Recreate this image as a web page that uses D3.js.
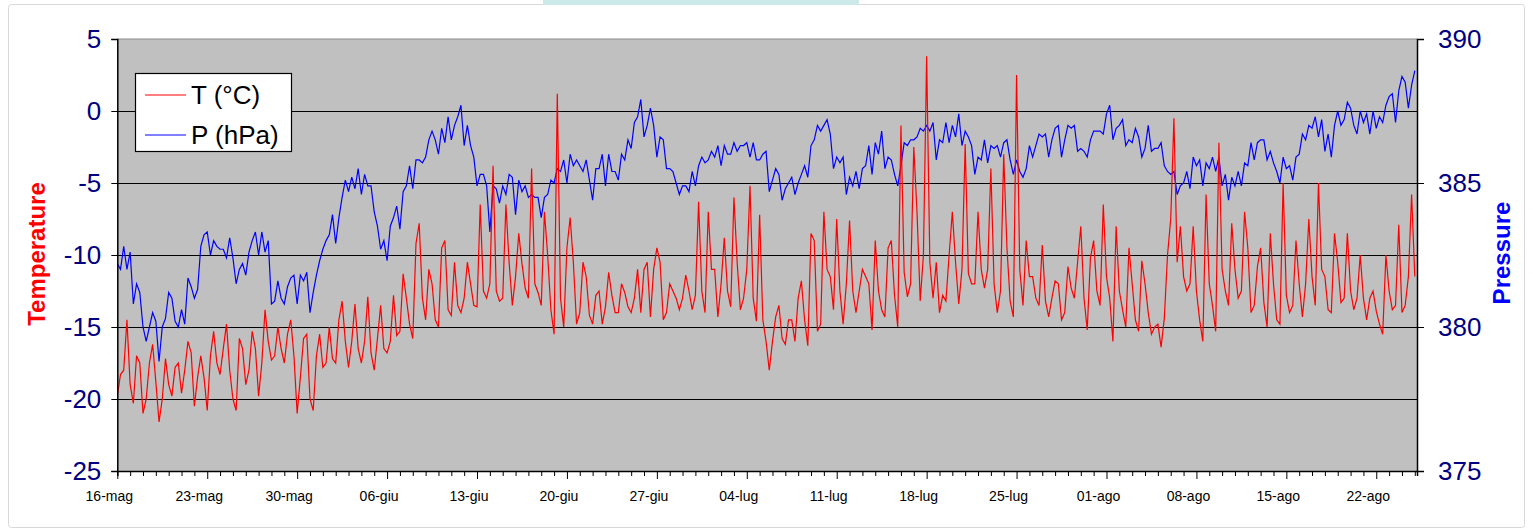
<!DOCTYPE html>
<html><head><meta charset="utf-8">
<script src="https://cdn.jsdelivr.net/npm/d3@7"></script>
<style>body{margin:0;background:#fff;}svg{display:block;font-family:"Liberation Sans",Arial,sans-serif;}</style>
</head><body>
<svg id="chart" width="1533" height="531"></svg>
<script>
// Time axis: days since 16-mag, samples every 6 hours
const sampleStepDays = 0.25;
const xEndDay = 101.17;
const xTickLabels = ["16-mag","23-mag","30-mag","06-giu","13-giu","20-giu","27-giu","04-lug","11-lug","18-lug","25-lug","01-ago","08-ago","15-ago","22-ago"];
const tempTicks = [-25,-20,-15,-10,-5,0,5];
const pressTicks = [375,380,385,390];
const legendLabels = ["T (°C)","P (hPa)"];

// Temperature (°C), one value every 6 h
const temperature = [
-19.8,-18.3,-18.0,-14.5, -19.0,-20.3,-17.0,-17.5, -21.0,-20.0,-17.5,-16.2, -18.8,-21.6,-20.0,-17.2,
-19.0,-19.8,-17.8,-17.5, -19.6,-18.0,-16.0,-16.8, -20.5,-18.5,-17.0,-18.5, -20.8,-17.0,-15.3,-17.5,
-18.3,-16.5,-14.8,-18.0, -20.0,-20.8,-15.8,-16.5, -19.0,-18.0,-15.3,-16.5, -19.8,-17.5,-13.8,-16.0,
-17.3,-17.0,-15.0,-16.5, -17.5,-15.5,-14.5,-17.0, -21.0,-18.5,-15.8,-15.5, -20.0,-20.8,-17.0,-15.5,
-17.8,-17.5,-15.0,-17.2, -17.5,-14.5,-13.2,-16.0, -17.8,-16.0,-13.4,-16.5, -17.5,-16.0,-12.9,-16.8,
-18.0,-15.8,-13.5,-16.5, -16.8,-16.0,-12.8,-15.6, -15.3,-11.3,-13.0,-14.8, -15.8,-9.2,-7.8,-13.0,
-14.5,-11.0,-12.0,-14.5, -15.0,-9.5,-9.0,-13.8, -14.2,-10.5,-13.5,-14.0, -13.0,-10.5,-12.0,-13.5,
-13.6,-6.5,-12.5,-13.0, -12.0,-3.8,-12.5,-13.2, -13.0,-6.5,-10.5,-13.5, -11.5,-8.5,-10.6,-12.3,
-13.0,-4.0,-12.0,-12.6, -13.5,-7.0,-10.0,-13.8, -15.5,1.2,-13.0,-15.0, -9.5,-7.4,-10.5,-14.8,
-14.0,-10.5,-11.5,-14.2, -14.8,-12.8,-12.5,-14.8, -13.6,-11.2,-12.8,-14.0, -14.0,-12.0,-12.6,-13.6,
-14.0,-13.0,-11.0,-14.0, -11.0,-10.5,-14.3,-11.0, -9.5,-10.5,-14.5,-14.0, -12.0,-12.5,-13.0,-13.8,
-13.0,-11.4,-12.5,-13.8, -12.8,-6.3,-12.5,-14.0, -7.0,-11.0,-11.0,-14.3, -12.0,-8.8,-12.5,-13.6,
-6.0,-10.5,-13.8,-13.0, -11.0,-5.2,-13.0,-14.6, -7.2,-14.5,-16.0,-18.0, -16.0,-14.3,-13.5,-15.8,
-16.2,-14.5,-14.5,-16.0, -13.0,-11.8,-14.5,-16.3, -8.5,-9.0,-15.3,-14.8, -7.0,-11.0,-11.5,-13.8,
-7.5,-12.5,-14.8,-12.0, -7.6,-12.5,-14.0,-12.5, -11.0,-11.5,-12.0,-15.2, -9.0,-12.5,-13.8,-14.3,
-9.5,-9.0,-12.8,-15.0, -1.0,-11.2,-12.9,-12.0, -2.5,-7.0,-13.2,-10.0, 3.8,-10.5,-13.0,-10.5,
-14.0,-12.8,-13.2,-10.0, -7.0,-10.5,-13.4,-11.0, -2.3,-11.3,-12.0,-12.0, -7.0,-11.0,-12.3,-11.0,
-4.0,-12.0,-14.0,-12.5, -3.0,-9.5,-13.2,-14.3, 2.5,-11.0,-13.5,-9.0, -11.5,-11.5,-13.0,-13.5,
-9.3,-13.2,-14.3,-13.0, -11.8,-12.0,-14.5,-14.0, -10.8,-12.3,-13.0,-10.5, -8.0,-13.0,-15.2,-10.2,
-9.0,-12.5,-13.5,-6.5, -11.5,-13.0,-16.0,-8.0, -12.5,-13.8,-15.0,-9.5, -12.0,-14.5,-15.3,-10.4,
-12.0,-14.0,-15.5,-15.0, -14.8,-16.4,-14.4,-10.0, -7.5,-0.5,-10.5,-8.0, -11.5,-12.5,-12.0,-8.0,
-12.5,-14.5,-16.0,-5.8, -12.0,-13.5,-15.3,-2.2, -11.0,-12.5,-13.5,-7.8, -11.0,-13.0,-12.5,-7.0,
-9.5,-14.0,-13.5,-10.8, -9.5,-13.3,-15.0,-8.5, -12.0,-14.5,-14.8,-5.0, -12.8,-14.0,-13.5,-9.0,
-12.0,-14.3,-12.0,-7.5, -11.5,-13.5,-5.0,-11.0, -11.5,-13.8,-14.0,-8.5, -10.5,-13.3,-13.0,-8.5,
-12.5,-13.8,-13.0,-10.0, -13.0,-14.5,-13.0,-12.5, -13.9,-14.8,-15.5,-10.0, -12.5,-13.8,-13.5,-7.9,
-14.0,-13.5,-11.5,-5.8, -11.5
];

// Pressure (hPa), one value every 6 h
const pressure = [
382.2,382.0,382.8,382.0, 382.6,380.8,381.5,381.2, 380.0,379.5,380.0,380.5, 380.2,378.8,380.0,380.3,
381.2,381.0,380.2,380.0, 380.6,380.1,381.7,381.4, 381.0,381.3,382.8,383.2, 383.3,382.5,383.0,382.8,
382.7,382.7,382.4,383.1, 382.4,381.5,382.0,382.2, 381.8,382.6,383.0,383.3, 382.5,383.3,382.6,383.0,
380.8,380.9,381.6,381.0, 380.8,381.4,381.7,381.8, 380.8,381.8,381.6,381.9, 380.5,381.2,381.8,382.3,
382.7,383.0,383.2,383.9, 382.9,383.8,384.5,385.1, 384.7,385.2,384.8,385.5, 384.6,385.3,384.9,384.9,
384.0,383.5,382.7,383.0, 382.3,383.5,383.8,384.2, 383.4,384.7,384.9,385.6, 384.8,385.8,385.8,385.7,
385.9,386.5,386.8,386.5, 386.0,386.9,386.4,387.3, 386.5,387.0,387.3,387.7, 386.3,387.0,386.3,385.9,
384.9,385.3,385.3,384.9, 383.3,384.9,384.8,384.3, 384.9,384.6,385.3,385.2, 383.9,385.1,384.7,384.9,
384.5,384.6,384.5,384.5, 383.8,384.5,384.6,385.1, 385.0,385.5,385.4,385.8, 385.0,386.0,385.6,385.8,
385.6,385.4,385.8,385.1, 384.4,385.5,385.5,386.0, 384.9,386.0,385.4,385.4, 385.1,386.0,385.8,386.5,
386.2,387.1,387.3,387.9, 386.6,387.0,387.6,387.0, 385.9,386.6,386.5,385.5, 385.5,385.4,385.0,384.6,
384.9,384.9,384.7,385.4, 384.9,385.6,385.9,385.7, 385.8,386.1,385.9,386.3, 385.6,386.3,386.0,386.0,
386.4,386.1,386.3,386.3, 386.4,385.9,386.4,385.8, 385.8,386.0,386.1,384.7, 385.1,385.5,385.3,384.4,
384.8,385.0,385.2,384.6, 385.0,385.3,385.6,385.2, 386.3,386.5,387.0,386.8, 387.0,387.2,386.7,385.5,
385.9,385.7,385.9,384.6, 385.2,384.9,385.4,384.8, 385.5,385.6,386.3,385.3, 386.4,386.0,386.8,385.5,
385.9,385.8,385.3,384.9, 385.6,386.4,386.3,386.5, 386.5,386.6,386.9,386.8, 387.0,386.8,387.1,385.8,
386.5,386.4,387.1,386.4, 387.0,386.6,387.4,386.3, 386.8,386.6,386.3,385.3, 385.9,385.8,386.5,385.7,
386.3,386.2,386.3,385.9, 386.4,386.5,385.8,385.3, 385.8,385.4,385.2,385.5, 386.3,385.9,386.3,386.7,
386.6,386.7,385.9,386.5, 386.9,387.0,385.9,386.5, 387.0,386.9,387.0,386.1, 386.2,386.1,385.9,386.5,
386.8,386.8,386.8,386.7, 387.4,387.7,386.5,386.9, 387.0,387.2,386.3,386.5, 386.4,386.9,386.6,385.9,
386.2,387.0,386.1,386.2, 386.2,386.4,385.6,385.4, 385.3,385.4,384.6,384.9, 385.0,385.4,384.8,385.9,
385.6,385.8,384.9,385.7, 385.5,385.9,385.4,385.9, 384.9,385.3,384.4,385.2, 384.9,385.4,384.9,385.7,
385.6,386.4,385.8,386.4, 386.5,386.5,385.8,386.1, 385.7,385.4,385.0,385.9, 385.5,385.6,385.1,385.9,
386.0,386.7,386.5,387.0, 386.9,387.3,386.6,387.2, 386.1,386.7,385.9,387.0, 387.5,387.0,387.2,387.8,
387.6,387.0,386.7,387.5, 387.1,387.4,386.7,387.5, 386.9,387.3,387.1,387.7, 388.0,388.1,387.1,388.2,
388.7,388.5,387.6,388.4, 388.9
];

const svg = d3.select("#chart");
const W = 1533, H = 531;
const plot = {left: 117.3, right: 1417, top: 39, bottom: 471};
const fontFam = "Liberation Sans, Arial, sans-serif";

// frame and decorations
svg.append("rect").attr("x", 0).attr("y", 0).attr("width", W).attr("height", H).attr("fill", "#fff");
svg.append("rect").attr("x", 8.5).attr("y", 4.5).attr("width", 1516).attr("height", 523)
  .attr("rx", 3).attr("fill", "#fff").attr("stroke", "#d8d8d8");
svg.append("rect").attr("x", 543).attr("y", 0).attr("width", 316).attr("height", 5).attr("fill", "#cdeaea");

const x = d3.scaleLinear().domain([0, xEndDay]).range([plot.left, plot.right]);
const yT = d3.scaleLinear().domain([-25, 5]).range([plot.bottom, plot.top]);
const yP = d3.scaleLinear().domain([375, 390]).range([plot.bottom, plot.top]);

// plot background
svg.append("rect").attr("x", plot.left).attr("y", plot.top)
  .attr("width", plot.right - plot.left).attr("height", plot.bottom - plot.top)
  .attr("fill", "#c0c0c0");

// gridlines
const grid = svg.append("g").attr("transform", `translate(${plot.left},0)`)
  .call(d3.axisLeft(yT).tickValues(tempTicks.filter(t => t > -25 && t < 5)).tickSize(-(plot.right - plot.left)).tickFormat(""));
grid.select(".domain").remove();
grid.selectAll("line").attr("stroke", "#000").attr("stroke-width", 1.1);
svg.append("line").attr("x1", plot.left).attr("x2", plot.right).attr("y1", plot.top).attr("y2", plot.top)
  .attr("stroke", "#8a8a8a").attr("stroke-width", 1);

// clip
svg.append("clipPath").attr("id", "clip").append("rect")
  .attr("x", plot.left).attr("y", plot.top).attr("width", plot.right - plot.left).attr("height", plot.bottom - plot.top);

const lineT = d3.line().x((d, i) => x(i * sampleStepDays)).y(d => yT(d));
const lineP = d3.line().x((d, i) => x(i * sampleStepDays)).y(d => yP(d));

const series = svg.append("g").attr("clip-path", "url(#clip)");
series.append("path").datum(pressure).attr("d", lineP).attr("fill", "none")
  .attr("stroke", "#0000ff").attr("stroke-width", 1.2).attr("stroke-linejoin", "miter");
series.append("path").datum(temperature).attr("d", lineT).attr("fill", "none")
  .attr("stroke", "#ff0000").attr("stroke-width", 1.2).attr("stroke-linejoin", "miter");

// left axis
const axL = svg.append("g").attr("transform", `translate(${plot.left},0)`)
  .call(d3.axisLeft(yT).tickValues(tempTicks).tickSize(6).tickPadding(10).tickFormat(d => String(d)));
axL.select(".domain").attr("stroke", "#000").attr("stroke-width", 1.5);
axL.selectAll(".tick line").attr("stroke", "#000");
axL.selectAll(".tick text").attr("fill", "#000080").style("font-size", "26px").style("font-family", fontFam);

// right axis
const axR = svg.append("g").attr("transform", `translate(${plot.right},0)`)
  .call(d3.axisRight(yP).tickValues(pressTicks).tickSize(7).tickPadding(14).tickFormat(d => String(d)));
axR.select(".domain").attr("stroke", "#000").attr("stroke-width", 1.5);
axR.selectAll(".tick line").attr("stroke", "#000");
axR.selectAll(".tick text").attr("fill", "#000080").style("font-size", "26px").style("font-family", fontFam);

// bottom axis: daily minor ticks, weekly major ticks
const dayTicks = d3.range(0, Math.floor(xEndDay) + 1);
const axB = svg.append("g").attr("transform", `translate(0,${plot.bottom})`)
  .call(d3.axisBottom(x).tickValues(dayTicks).tickSize(5).tickFormat(""));
axB.select(".domain").attr("stroke", "#000").attr("stroke-width", 1.5);
axB.selectAll(".tick line").attr("stroke", "#000")
  .attr("y2", d => d % 7 === 0 ? 8 : 5);
svg.append("g").selectAll("text").data(xTickLabels).join("text")
  .attr("x", (d, i) => x(i * 7) - 8).attr("y", plot.bottom + 30)
  .attr("text-anchor", "middle").attr("fill", "#000")
  .style("font-size", "14px").style("font-family", fontFam).text(d => d);

// axis titles
svg.append("text").attr("transform", "translate(45,254) rotate(-90)")
  .attr("text-anchor", "middle").attr("fill", "#ff0000").style("font-weight", "bold").style("font-size", "24px")
  .style("font-family", fontFam).text("Temperature");
svg.append("text").attr("transform", "translate(1510,253) rotate(-90)")
  .attr("text-anchor", "middle").attr("fill", "#0000ff").style("font-weight", "bold").style("font-size", "24px")
  .style("font-family", fontFam).text("Pressure");

// legend
const lg = svg.append("g");
lg.append("rect").attr("x", 135.5).attr("y", 73.5).attr("width", 156).attr("height", 78)
  .attr("fill", "#fff").attr("stroke", "#000").attr("stroke-width", 1.2);
const legendColors = ["#ff0000", "#0000ff"];
legendLabels.forEach((lab, i) => {
  const yy = 95 + i * 40;
  lg.append("line").attr("x1", 145).attr("x2", 186).attr("y1", yy).attr("y2", yy)
    .attr("stroke", legendColors[i]).attr("stroke-width", 1.2);
  lg.append("text").attr("x", 191).attr("y", yy + 9).attr("fill", "#000")
    .style("font-size", "26px").style("font-family", fontFam).text(lab);
});
</script>
</body></html>
